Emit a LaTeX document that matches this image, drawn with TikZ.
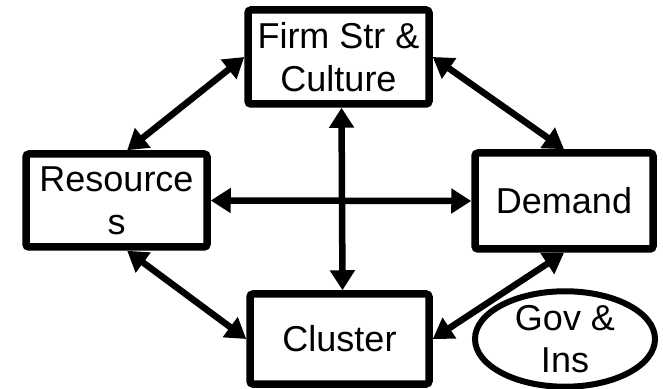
\documentclass[tikz,border=0pt]{standalone}
\usepackage{fontspec}
\setmainfont{Liberation Sans}
\usetikzlibrary{arrows.meta,positioning,shapes.geometric}
\tikzset{
  factor/.style={draw,line width=7.5pt,rounded corners=3pt,fill=white,align=center,
    minimum width=181pt,minimum height=94pt,inner sep=0pt,
    font=\fontsize{36}{43}\selectfont},
  agency/.style={draw,ellipse,line width=6pt,fill=white,align=center,
    minimum width=180pt,minimum height=90pt,inner sep=0pt,
    font=\fontsize{36}{42}\selectfont},
  link/.style={{Triangle[length=20pt,width=24pt]}-{Triangle[length=20pt,width=24pt]},
    line width=6.5pt}
}

\begin{document}
\begin{tikzpicture}[x=1pt,y=1pt]
  \useasboundingbox (0,0) rectangle (663,388);
  \node[factor] (firm) at (338.5,331) {Firm Str \&\\Culture};
  \node[factor,minimum height=93pt] (res) at (116.5,187.5) {Resource\\s};
  \node[factor,minimum width=178pt,minimum height=96pt] (demand) at (564,187) {Demand};
  \node[factor,minimum width=179pt,minimum height=90pt] (cluster) at (339.5,49) {Cluster};
  \node[agency] (gov) at (565,49) {Gov \&\\Ins};
  \draw[link] (res.78) -- (firm.west);
  \draw[link] (firm.east) -- (demand.north);
  \draw[link] (res.282) -- (cluster.west);
  \draw[link] (demand.south) -- (cluster.east);
  \draw[link] (res.east) -- (demand.west);
  \draw[link] ([xshift=3pt]firm.south) -- ([xshift=3pt]cluster.north);
\end{tikzpicture}
\end{document}
